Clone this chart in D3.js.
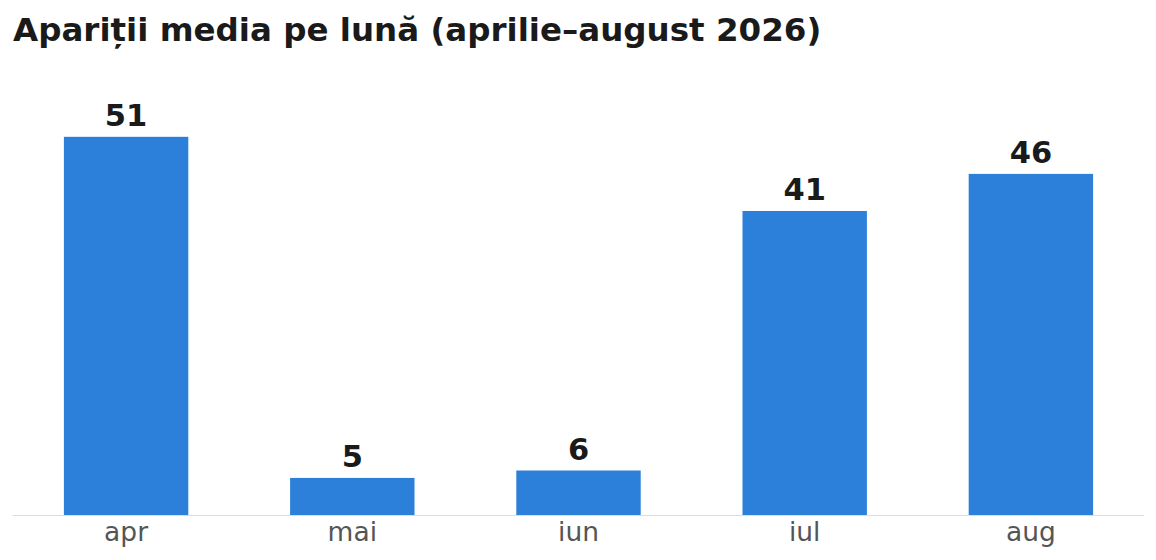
<!DOCTYPE html>
<html>
<head>
<meta charset="utf-8">
<script src="https://cdn.jsdelivr.net/npm/d3@7"></script>
<style>
  body { margin: 0; background: #fff; }
  svg { display: block; font-family: "DejaVu Sans", sans-serif; }
</style>
</head>
<body>
<svg></svg>
<script>
// date: aparitii media pe luna
const months = ["apr", "mai", "iun", "iul", "aug"]
const counts = [51, 5, 6, 41, 46]

const W = 1156, H = 560
const svg = d3.select("svg")
  .attr("width", W)
  .attr("height", H)

// titlul
svg.append("text")
  .attr("x", 13)
  .attr("y", 41)
  .attr("font-size", 32.5)
  .attr("font-weight", "bold")
  .attr("fill", "#1a1a1a")
  .text("Apariții media pe lună (aprilie–august 2026)")

const x = d3.scaleBand()
  .domain(months)
  .range([13, 1144])
  .paddingInner(0.45)
  .paddingOuter(0.225)

const y = d3.scaleLinear()
  .domain([0, d3.max(counts) * 1.1])
  .range([515, 99])

const rows = months.map((m, i) => ({ m: m, v: counts[i] }))

// barele
svg.selectAll("rect.bar")
  .data(rows)
  .enter()
  .append("rect")
  .attr("class", "bar")
  .attr("x", d => x(d.m))
  .attr("width", x.bandwidth())
  .attr("y", d => y(d.v))
  .attr("height", d => y(0) - y(d.v))
  .attr("fill", "#2c80d9")

// valorile deasupra
svg.selectAll("text.val")
  .data(rows)
  .enter()
  .append("text")
  .attr("class", "val")
  .attr("x", d => x(d.m) + x.bandwidth() / 2)
  .attr("y", d => y(d.v) - 11)
  .attr("text-anchor", "middle")
  .attr("font-size", 30.5)
  .attr("font-weight", "bold")
  .attr("fill", "#1a1a1a")
  .text(d => d.v)

// axa x
const axis = svg.append("g")
  .attr("transform", "translate(0,515)")
  .call(d3.axisBottom(x).tickSize(0).tickPadding(7))

axis.select(".domain")
  .attr("stroke", "#dddddd")
  .attr("stroke-width", 1.2)
  .attr("d", "M13,0.5H1144")

axis.selectAll("text")
  .attr("font-size", 26.5)
  .attr("font-family", "DejaVu Sans, sans-serif")
  .attr("fill", "#555555")
</script>
</body>
</html>
